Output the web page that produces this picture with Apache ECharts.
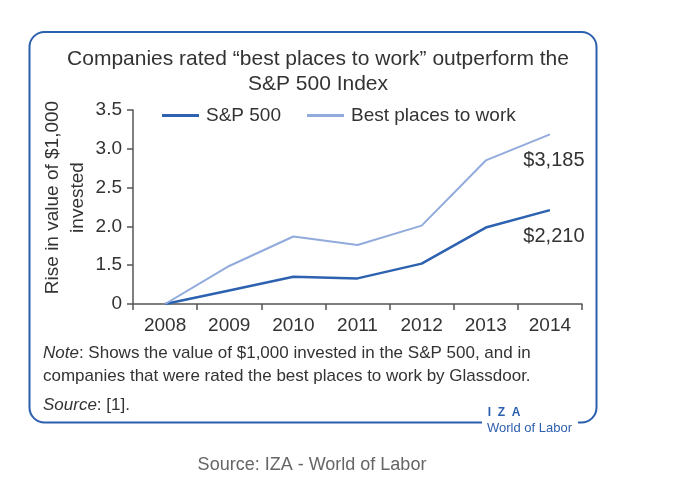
<!DOCTYPE html>
<html><head><meta charset="utf-8">
<script src="https://cdn.jsdelivr.net/npm/echarts@6/dist/echarts.min.js"></script>
<style>html,body{margin:0;padding:0;background:#fff;}#c{width:681px;height:499px;}</style>
</head><body><div id="c"></div>
<script>
var years = ['2008','2009','2010','2011','2012','2013','2014'];
var spValues = [1.0, 1.175, 1.35, 1.33, 1.52, 1.985, 2.21];
var bestValues = [1.0, 1.49, 1.87, 1.76, 2.01, 2.85, 3.185];
var yTickValues = [1, 1.5, 2.0, 2.5, 3.0, 3.5];
var yTickLabels = ['0', '1.5', '2.0', '2.5', '3.0', '3.5'];
var endLabels = ['$2,210', '$3,185'];

var FONT = 'Liberation Sans';
var TXT = '#333';
var BLUE = '#2c5fad';

function withEndLabel(vals, text, dist) {
  return vals.map(function (v, i) {
    if (i === vals.length - 1) {
      return { value: v, label: { show: true, formatter: text, position: 'bottom', distance: dist, offset: [4, 0],
        fontSize: 20, color: TXT, fontFamily: FONT } };
    }
    return v;
  });
}

var chart = echarts.init(document.getElementById('c'), null, { renderer: 'canvas' });
chart.setOption({
  backgroundColor: '#fff',
  animation: false,
  title: {
    text: 'Companies rated \u201cbest places to work\u201d outperform the\nS&P 500 Index',
    left: 313, top: 42, textAlign: 'center',
    textStyle: { fontFamily: FONT, fontSize: 21, fontWeight: 'normal', color: TXT, lineHeight: 25 }
  },
  legend: {
    left: 157, top: 101, itemWidth: 37, itemHeight: 3, itemGap: 26,
    icon: 'rect',
    textStyle: { fontFamily: FONT, fontSize: 19, color: TXT, padding: [0, 0, 0, 2] },
    data: ['S&P 500', 'Best places to work']
  },
  grid: { left: 133, right: 99, top: 110, bottom: 195, containLabel: false },
  xAxis: {
    type: 'category', data: years, boundaryGap: true,
    axisLine: { lineStyle: { color: '#555', width: 1.5 } },
    axisTick: { show: true, length: 6, lineStyle: { color: '#555', width: 1.5 } },
    axisLabel: { fontFamily: FONT, fontSize: 19, color: TXT, margin: 12 }
  },
  yAxis: {
    type: 'value', min: 1, max: 3.5, interval: 0.5,
    splitLine: { show: false },
    axisLine: { show: true, lineStyle: { color: '#555', width: 1.5 } },
    axisTick: { show: true, length: 6, lineStyle: { color: '#555', width: 1.5 } },
    axisLabel: { fontFamily: FONT, fontSize: 19, color: TXT, margin: 11,
      formatter: function (v) { var i = yTickValues.indexOf(v); return i >= 0 ? yTickLabels[i] : ''; } }
  },
  series: [
    { name: 'S&P 500', type: 'line', data: withEndLabel(spValues, endLabels[0], 16),
      symbol: 'circle', symbolSize: 0, showSymbol: true, showAllSymbol: true,
      color: '#2d62b1', lineStyle: { width: 2.5, color: '#2d62b1' } },
    { name: 'Best places to work', type: 'line', data: withEndLabel(bestValues, endLabels[1], 16),
      symbol: 'circle', symbolSize: 0, showSymbol: true, showAllSymbol: true,
      color: '#91abdc', lineStyle: { width: 2, color: '#91abdc' } }
  ],
  graphic: [
    { type: 'rect', shape: { x: 29.5, y: 32, width: 567, height: 390.5, r: 15 },
      style: { fill: 'none', stroke: BLUE, lineWidth: 2 }, z: 1 },
    { type: 'rect', shape: { x: 482, y: 416, width: 96, height: 12 },
      style: { fill: '#fff', stroke: 'none' }, z: 2 },
    { type: 'text', x: 504, y: 413, z: 3,
      style: { text: 'I  Z  A', fill: BLUE, font: 'bold 12px "Liberation Sans"', textAlign: 'center', textVerticalAlign: 'middle' } },
    { type: 'text', x: 487, y: 428, z: 3,
      style: { text: 'World of Labor', fill: BLUE, font: '13px "Liberation Sans"', textAlign: 'left', textVerticalAlign: 'middle' } },
    { type: 'text', x: 65, y: 197.5, rotation: Math.PI / 2, z: 3,
      style: { text: 'Rise in value of $1,000\ninvested', fill: TXT, font: '19px "Liberation Sans"',
        textAlign: 'center', textVerticalAlign: 'middle', lineHeight: 25 } },
    { type: 'text', x: 43, y: 353, z: 3,
      style: { rich: { i: { fontStyle: 'italic', fontSize: 17, fontFamily: FONT, fill: TXT }, n: { fontSize: 17, fontFamily: FONT, fill: TXT } },
        text: '{i|Note}{n|: Shows the value of $1,000 invested in the S&P 500, and in}', textVerticalAlign: 'middle' } },
    { type: 'text', x: 43, y: 376, z: 3,
      style: { text: 'companies that were rated the best places to work by Glassdoor.', fill: TXT, font: '17px "Liberation Sans"', textVerticalAlign: 'middle' } },
    { type: 'text', x: 43, y: 405, z: 3,
      style: { rich: { i: { fontStyle: 'italic', fontSize: 17, fontFamily: FONT, fill: TXT }, n: { fontSize: 17, fontFamily: FONT, fill: TXT } },
        text: '{i|Source}{n|: [1].}', textVerticalAlign: 'middle' } },
    { type: 'text', x: 312, y: 465, z: 3,
      style: { text: 'Source: IZA - World of Labor', fill: '#666', font: '18px "Liberation Sans"', textAlign: 'center', textVerticalAlign: 'middle' } }
  ]
});
</script></body></html>
